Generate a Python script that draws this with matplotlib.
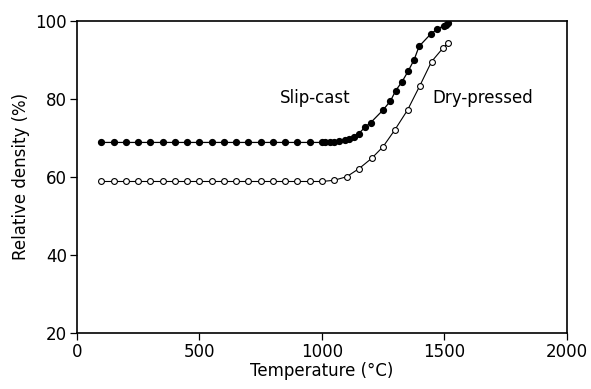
import matplotlib
matplotlib.use("Agg")
import matplotlib.pyplot as plt

# Data
slip_temp = [100, 150, 200, 250, 300, 350, 400, 450, 500, 550, 600, 650, 700, 750,
             800, 850, 900, 950, 1000, 1015, 1033, 1050, 1071, 1094, 1111, 1131, 1150,
             1176, 1200, 1250, 1280, 1302, 1328, 1352, 1377, 1397, 1445, 1471, 1498,
             1509, 1516]
slip_dens = [68.8] * 18 + [68.8, 68.8, 68.9, 69.0, 69.2, 69.5, 69.8, 70.3, 71.0,
                           72.7, 73.9, 77.1, 79.4, 82.1, 84.4, 87.0, 90.0, 93.4,
                           96.6, 97.8, 98.7, 99.0, 99.3]

dry_temp = [100, 150, 200, 250, 300, 350, 400, 450, 500, 550, 600, 650, 700, 750,
            800, 850, 900, 950, 1000, 1049, 1101, 1152, 1203, 1250, 1298, 1350, 1400,
            1448, 1495, 1516]
dry_dens = [58.8] * 18 + [58.8, 59.1, 60.0, 62.1, 64.7, 67.7, 72.0, 77.1, 83.3,
                          89.5, 93.0, 94.3]

x_ticks = [0, 500, 1000, 1500, 2000]
y_ticks = [20, 40, 60, 80, 100]

plt.rcParams['font.family'] = ['DejaVu Sans']

fig = plt.figure(figsize=(5.91, 3.89), dpi=100)
ax = fig.add_axes([0.130, 0.144, 0.829, 0.803])

ax.plot(slip_temp, slip_dens, color='black', lw=0.9, marker='o', ms=4.2,
        mfc='black', mec='black')
ax.plot(dry_temp, dry_dens, color='black', lw=0.8, marker='o', ms=4.2,
        mfc='white', mec='black', mew=0.8)

# annotations
ax.text(830, 80.3, "Slip-cast", fontsize=12, va='center', ha='left')
ax.text(1452, 80.3, "Dry-pressed", fontsize=12, va='center', ha='left')

ax.set_xlim(0, 2000)
ax.set_ylim(20, 100)
ax.set_xticks(x_ticks)
ax.set_yticks(y_ticks)
ax.tick_params(direction='out', length=5, width=0.9, labelsize=12, pad=2)
for s in ax.spines.values():
    s.set_linewidth(1.2)

ax.set_xlabel("Temperature (°C)", fontsize=12, labelpad=1)
ax.set_ylabel("Relative density (%)", fontsize=12, labelpad=4)

fig.savefig("out.png", dpi=100)
